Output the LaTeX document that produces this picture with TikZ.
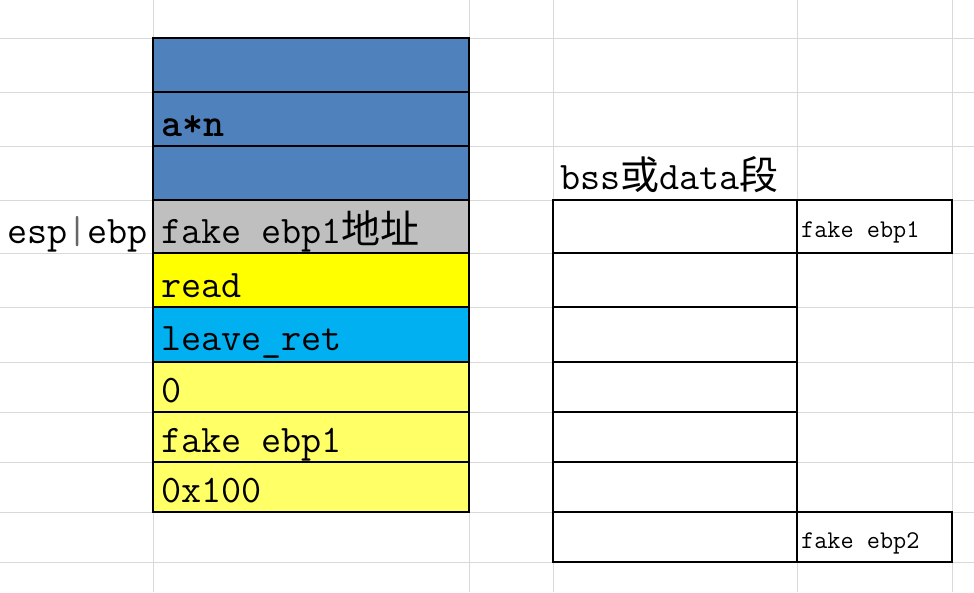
\documentclass[tikz,border=0pt]{standalone}
\usepackage{fontspec}
\newfontfamily\cjk{Noto Sans CJK SC}
\definecolor{gridgray}{HTML}{D9D9D9}
\definecolor{stackblue}{HTML}{4F81BD}
\definecolor{ebpgray}{HTML}{BFBFBF}
\definecolor{readyellow}{HTML}{FFFF00}
\definecolor{retcyan}{HTML}{00B0F0}
\definecolor{argyellow}{HTML}{FFFF66}
\begin{document}
\begin{tikzpicture}[x=1pt,y=-1pt,
  grid/.style={draw=gridgray, line width=1pt},
  cell/.style={draw=black, line width=1.1pt},
  lbl/.style={anchor=base west, inner sep=0pt, text=black,
    font=\ttfamily\fontsize{39}{39}\selectfont},
  small/.style={anchor=base west, inner sep=0pt, text=black,
    font=\ttfamily\fontsize{25.5}{26}\selectfont}]
\useasboundingbox (0,0) rectangle (974,592);
\fill[white] (0,0) rectangle (974,592);

% spreadsheet grid
\foreach \y in {38,92,146,200,253,307,362,412,462,512,562}
  \draw[grid] (0,\y) -- (974,\y);
\foreach \x in {153,469,553,797,952}
  \draw[grid] (\x,0) -- (\x,592);

% stack column
\path[cell, fill=stackblue]  (153,38)  rectangle (469,92);
\path[cell, fill=stackblue]  (153,92)  rectangle (469,146);
\path[cell, fill=stackblue]  (153,146) rectangle (469,200);
\path[cell, fill=ebpgray]    (153,200) rectangle (469,253);
\path[cell, fill=readyellow] (153,253) rectangle (469,307);
\path[cell, fill=retcyan]    (153,307) rectangle (469,362);
\path[cell, fill=argyellow]  (153,362) rectangle (469,412);
\path[cell, fill=argyellow]  (153,412) rectangle (469,462);
\path[cell, fill=argyellow]  (153,462) rectangle (469,512);

\node[lbl, font=\ttfamily\bfseries\fontsize{40}{40}\selectfont] (an) at (161,136) {a*n};
\node[lbl] (fakeaddr) at (161,243) {fake ebp1{\cjk 地址}};
\node[lbl] (read) at (161,297) {read};
\node[lbl] (leaveret) at (161,350) {leave\_ret};
\node[lbl] (zero) at (161,402) {0};
\node[lbl] (fake1) at (161,452) {fake ebp1};
\node[lbl] (size) at (161,502) {0x100};

\node[lbl] (espebp) at (7,243) {esp{\color{black!60}|}ebp};

% bss / data segment
\node[lbl] (bss) at (560,189) {bss{\cjk 或}data{\cjk 段}};
\draw[cell] (553,200) rectangle (797,562);
\foreach \y in {253,307,362,412,462,512}
  \draw[cell] (553,\y) -- (797,\y);
\path[cell] (797,200) rectangle (952,253);
\path[cell] (797,512) rectangle (952,562);

\node[small] (bssebp1) at (801,237) {fake ebp1};
\node[small] (bssebp2) at (801,548) {fake ebp2};
\end{tikzpicture}
\end{document}
